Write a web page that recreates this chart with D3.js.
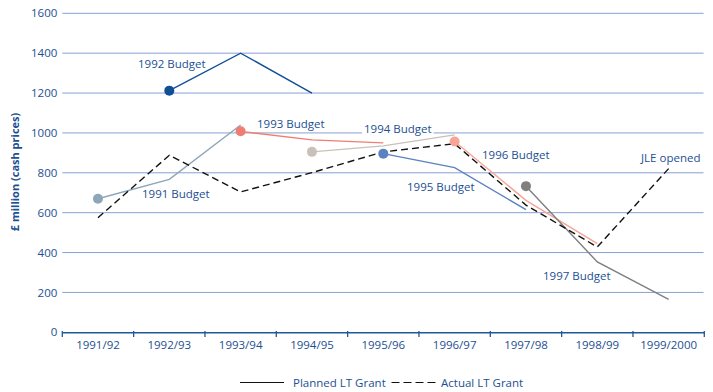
<!DOCTYPE html>
<html><head><meta charset="utf-8">
<script src="https://cdn.jsdelivr.net/npm/d3@7"></script>
<style>body{margin:0;background:#fff}svg{display:block}text{font-family:"Open Sans",sans-serif}</style>
</head><body><svg id="c" width="713" height="392"></svg>
<script>
const categories = ["1991/92","1992/93","1993/94","1994/95","1995/96","1996/97","1997/98","1998/99","1999/2000"];
const yTicks = [0,200,400,600,800,1000,1200,1400,1600];
const actualLT = [575, 888, 704, 801, 905, 946, 638, 428, 821];
const budgetNames = ["1991 Budget","1992 Budget","1993 Budget","1994 Budget","1995 Budget","1996 Budget","1997 Budget"];
const budgetStart = [0,1,2,3,4,5,6];
const budget1991 = [670, 767, 1040];
const budget1992 = [1212, 1400, 1200];
const budget1993 = [1008, 965, 950];
const budget1994 = [905, 935, 990];
const budget1995 = [896, 826, 615];
const budget1996 = [957, 662, 445];
const budget1997 = [733, 353, 165];
const budgetValues = [budget1991,budget1992,budget1993,budget1994,budget1995,budget1996,budget1997];
const budgetColors = ["#8da6b9","#0f4f95","#f07d70","#c9c1b9","#5c82bf","#f6a596","#7f7f7f"];
const labelPos = [[142,197.5],[138,68],[257,127.5],[364,132.5],[407,191],[482,159],[543,280]];
const textBlue = "#1d4f92";
const FS = "11.5px";

const svg = d3.select("#c");
const x = d3.scaleBand().domain(categories).range([62.3, 704.3]);
const y = d3.scaleLinear().domain([0,1600]).range([332.3, 13.3]);
const cx = c => x(c) + x.bandwidth()/2;

// gridlines
svg.append("g").selectAll("line").data(yTicks.filter(d=>d>0)).join("line")
  .attr("x1",62.3).attr("x2",703.5).attr("y1",d=>y(d)).attr("y2",d=>y(d))
  .attr("stroke","#86a1d4").attr("stroke-width",1);

// y axis labels
const ya = svg.append("g").attr("transform","translate(62.3,0)")
  .call(d3.axisLeft(y).tickValues(yTicks).tickFormat(d3.format("d")).tickSize(0).tickPadding(5));
ya.select(".domain").remove();
ya.selectAll("text").attr("fill",textBlue).style("font-size",FS).style("font-family","'Open Sans',sans-serif");

// x axis
const xa = svg.append("g").attr("transform","translate(0,332.3)")
  .call(d3.axisBottom(x).tickSize(0).tickPadding(9));
xa.select(".domain").attr("stroke","#1d5a9c").attr("stroke-width",1.5);
xa.selectAll("text").attr("fill",textBlue).style("font-size",FS).style("font-family","'Open Sans',sans-serif");
const edges = categories.map(c=>x(c)).concat([x(categories[categories.length-1])+x.bandwidth()]);
svg.append("g").selectAll("line").data(edges).join("line")
  .attr("x1",d=>d).attr("x2",d=>d).attr("y1",331).attr("y2",337)
  .attr("stroke","#1d5a9c").attr("stroke-width",1.3);

const line = d3.line().x(d=>cx(d.c)).y(d=>y(d.v));

// budget lines
budgetValues.forEach((vals,i)=>{
  const pts = vals.map((v,j)=>({c:categories[budgetStart[i]+j], v}));
  svg.append("path").datum(pts).attr("d",line).attr("fill","none")
    .attr("stroke",budgetColors[i]).attr("stroke-width",1.4);
});

// actual dashed
const apts = actualLT.map((v,i)=>({c:categories[i],v}));
svg.append("path").datum(apts).attr("d",line).attr("fill","none")
  .attr("stroke","#111").attr("stroke-width",1.4).attr("stroke-dasharray","7,4");

// dots
budgetValues.forEach((vals,i)=>{
  svg.append("circle").attr("cx",cx(categories[budgetStart[i]])).attr("cy",y(vals[0]))
    .attr("r",5).attr("fill",budgetColors[i]);
});

// labels
const lg = svg.append("g");
budgetNames.forEach((n,i)=>{
  const bg = lg.append("rect");
  const t = lg.append("text").attr("x",labelPos[i][0]).attr("y",labelPos[i][1])
    .attr("fill",textBlue).style("font-size",FS).text(n);
  if(i===3){
    const bb = t.node().getBBox();
    bg.attr("x",bb.x-2).attr("y",bb.y).attr("width",bb.width+4).attr("height",bb.height).attr("fill","#fff");
  } else bg.remove();
});
svg.append("text").attr("x",641).attr("y",161.5).attr("fill",textBlue).style("font-size",FS).text("JLE opened");

// y axis title
svg.append("text").attr("transform","translate(19,172) rotate(-90)").attr("text-anchor","middle")
  .attr("fill",textBlue).style("font-size","11px").style("font-weight","bold").text("£ million (cash prices)");

// legend
svg.append("line").attr("x1",240).attr("x2",284).attr("y1",382.5).attr("y2",382.5).attr("stroke","#111").attr("stroke-width",1.2);
svg.append("text").attr("x",293).attr("y",386.5).attr("fill",textBlue).style("font-size",FS).text("Planned LT Grant");
svg.append("line").attr("x1",391.5).attr("x2",436).attr("y1",382.5).attr("y2",382.5).attr("stroke","#111").attr("stroke-width",1.2).attr("stroke-dasharray","8,4");
svg.append("text").attr("x",441).attr("y",386.5).attr("fill",textBlue).style("font-size",FS).text("Actual LT Grant");
</script></body></html>
